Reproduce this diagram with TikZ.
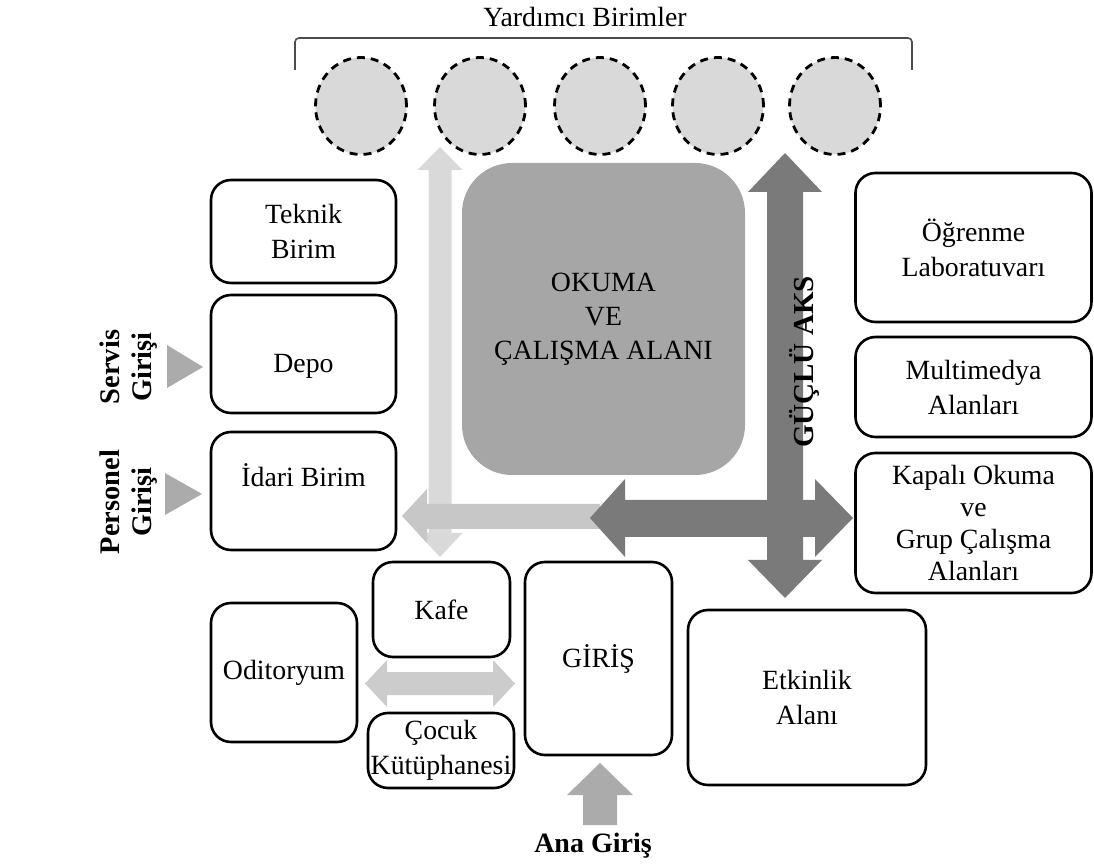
\documentclass[tikz,border=0pt]{standalone}
\usepackage{fontspec}
\setmainfont{Liberation Serif}
\usetikzlibrary{shapes.geometric}

\tikzset{
  room/.style={draw, line width=1.3pt, rounded corners=10pt, align=center, inner sep=0pt,
    font=\fontsize{13.9}{17.5}\selectfont},
  hub/.style={fill=black!35, rounded corners=25pt, align=center, inner sep=0pt,
    font=\fontsize{13.9}{17}\selectfont},
  unit/.style={ellipse, draw, line width=1.4pt, dash pattern=on 4pt off 3pt, fill=black!15,
    minimum width=45.5pt, minimum height=48.5pt, inner sep=0pt},
  entrylabel/.style={rotate=90, align=center, inner sep=0pt,
    font=\fontsize{14.2}{16}\selectfont\bfseries},
  lightflow/.style={fill=black!15},
  midflow/.style={fill=black!22},
  strongflow/.style={fill=black!52},
  entryflow/.style={fill=black!33},
  cafeflow/.style={fill=black!20}
}

\begin{document}
\begin{tikzpicture}[x=0.5pt, y=-0.5pt]
\useasboundingbox (0,0) rectangle (1094,866);

% yardimci birimler
\node[font=\fontsize{13.9}{17}\selectfont] (yardimci) at (585,17) {Yardımcı Birimler};
\draw[black!70, line width=0.8pt, rounded corners=2pt] (295,70) -- (295,38) -- (912,38) -- (912,70);
\foreach \x [count=\i] in {361,480,600,718,835}
  \node[unit] (u\i) at (\x,106) {};

% light axis
\fill[lightflow] (440,147) -- (462.5,170) -- (451.5,170) -- (451.5,533) -- (462.5,533) -- (440,557)
  -- (417.5,533) -- (428.5,533) -- (428.5,170) -- (417.5,170) -- cycle;
\fill[midflow] (402,516) -- (427,489) -- (427,504) -- (600,504) -- (600,529) -- (427,529) -- (427,543) -- cycle;

% strong axis
\fill[strongflow] (785,153) -- (822,192) -- (803,192) -- (803,560) -- (822,560) -- (785,598)
  -- (748,560) -- (767,560) -- (767,192) -- (748,192) -- cycle;
\fill[strongflow] (590,518) -- (625,479) -- (625,500) -- (815,500) -- (815,479) -- (853,518)
  -- (815,557) -- (815,537) -- (625,537) -- (625,557) -- cycle;
\node[rotate=90, inner sep=0pt, font=\fontsize{14.5}{17}\selectfont\bfseries] (aks) at (804,362) {GÜÇLÜ AKS};

% reading hall
\node[hub, minimum width=141.5pt, minimum height=156pt] (okuma) at (603.5,319) {OKUMA\\VE\\ÇALIŞMA ALANI};

% left column
\node[room, minimum width=92.5pt, minimum height=51.5pt] (teknik) at (303.5,231.5) {Teknik\\Birim};
\node[room, minimum width=92.5pt, minimum height=59pt, text height=21pt] (depo) at (303.5,354) {Depo};
\node[room, minimum width=92.5pt, minimum height=59pt, text depth=16pt] (idari) at (303.5,491) {İdari Birim};

% entrances
\fill[entryflow] (167,345) -- (203,367) -- (167,388) -- cycle;
\fill[entryflow] (165,473) -- (202,494) -- (165,515) -- cycle;
\node[entrylabel] (servis) at (129,367) {Servis\\Girişi};
\node[entrylabel] (personel) at (129,502) {Personel\\Girişi};

% right column
\node[room, minimum width=118pt, minimum height=74.5pt] (ogrenme) at (973.5,247.5) {Öğrenme\\Laboratuvarı};
\node[room, minimum width=118pt, minimum height=50pt] (multimedya) at (973.5,387) {Multimedya\\Alanları};
\node[room, minimum width=118pt, minimum height=70pt, font=\fontsize{13.9}{16}\selectfont] (kapali) at (973.5,523)
  {Kapalı Okuma\\ve\\Grup Çalışma\\Alanları};

% lower part
\node[room, minimum width=73pt, minimum height=69.5pt] (oditoryum) at (284,672.5) {Oditoryum};
\node[room, minimum width=68.5pt, minimum height=47.5pt] (kafe) at (441.5,609.5) {Kafe};
\node[room, minimum width=73pt, minimum height=37.5pt] (cocuk) at (441,750.5) {Çocuk\\Kütüphanesi};
\fill[cafeflow] (365,683.5) -- (387,660) -- (387,672) -- (493,672) -- (493,660) -- (515,683.5)
  -- (493,707) -- (493,695) -- (387,695) -- (387,707) -- cycle;
\node[room, minimum width=73.5pt, minimum height=96.5pt] (giris) at (598.5,658.5) {GİRİŞ};
\node[room, minimum width=119pt, minimum height=87.5pt] (etkinlik) at (807,697.5) {Etkinlik\\Alanı};

% main entrance
\fill[entryflow] (600,763) -- (633,795) -- (617,795) -- (617,825) -- (583,825) -- (583,795) -- (567,795) -- cycle;
\node[font=\fontsize{14}{17}\selectfont\bfseries] (anagiris) at (593,846) {Ana Giriş};
\end{tikzpicture}
\end{document}
